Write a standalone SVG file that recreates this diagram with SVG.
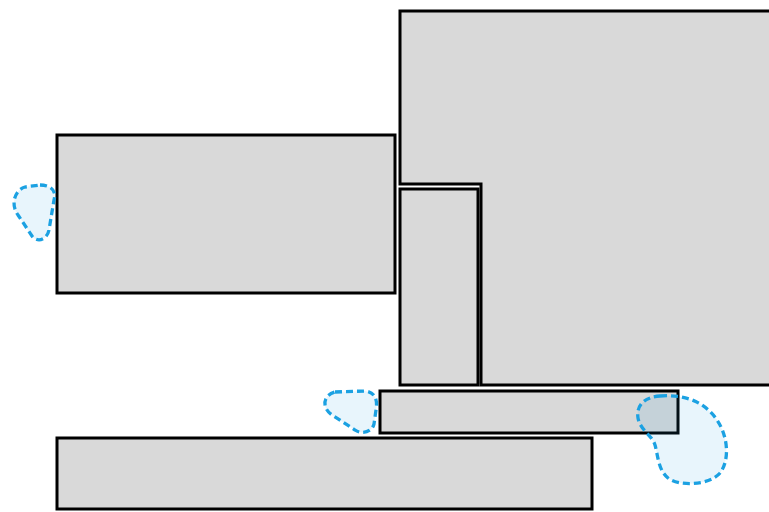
<svg xmlns="http://www.w3.org/2000/svg" width="769" height="512" viewBox="0 0 769 512">
<style>
.box{fill:#d9d9d9;stroke:#000;stroke-width:3}
.blob{fill:#1ba1e2;fill-opacity:0.1;stroke:#1ba1e2;stroke-width:3.3;stroke-dasharray:7 4;stroke-linecap:butt}
</style>
<rect width="769" height="512" fill="#fff"/>
<g id="big"><path class="box" d="M400 11 H790 V385 H481 V184 H400 Z"/></g>
<g id="narrow"><rect class="box" x="400" y="189" width="78" height="196"/></g>
<g id="left"><rect class="box" x="57" y="135" width="338" height="158"/></g>
<g id="mid"><rect class="box" x="380" y="391" width="298" height="42"/></g>
<g id="bottom"><rect class="box" x="57" y="438" width="535" height="71"/></g>
<g id="blob1"><path class="blob" d="M40 185 C50 185 57 190 54 200 L49 230 C47 240 37 243 32 236 L18 215 C10 204 15 190 25 187 Z"/></g>
<g id="blob2"><path class="blob" d="M335 392 L365 391 C375 392 378 400 376 410 L374 424 C372 432 362 435 355 430 L332 415 C322 408 322 396 335 392 Z"/></g>
<g id="blob3"><path class="blob" d="M660 396 C685 394 705 402 717 420 C728 436 730 460 720 473 C710 485 680 487 668 478 C658 470 658 455 655 445 C652 435 640 430 638 418 C636 405 645 397 660 396 Z"/></g>
<g id="connectors"></g>
</svg>
